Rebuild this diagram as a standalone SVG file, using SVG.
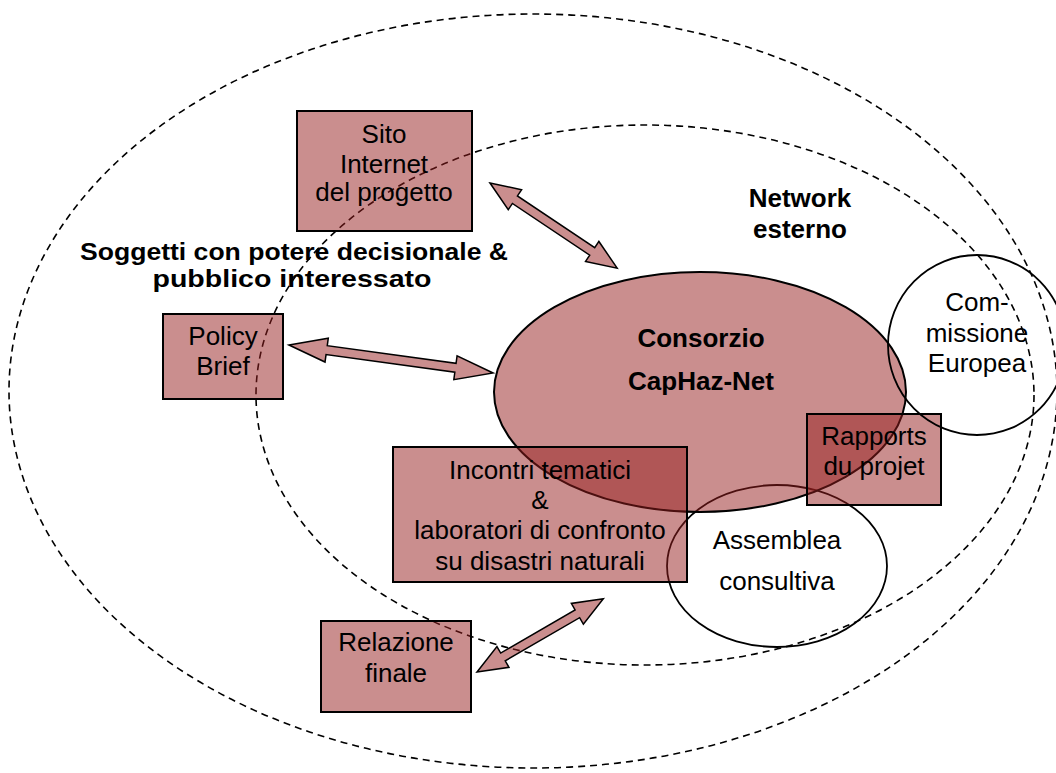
<svg xmlns="http://www.w3.org/2000/svg" width="1056" height="773" viewBox="0 0 1056 773">
<style>
.dash{fill:none;stroke:#000;stroke-width:1.6;stroke-dasharray:7 5}
.fill{fill:#961e1e;fill-opacity:0.5;stroke:#000;stroke-width:2}
.open{fill:none;stroke:#000;stroke-width:1.8}
.arr{fill:#961e1e;fill-opacity:0.5;stroke:#000;stroke-width:1.5;stroke-linejoin:miter}
text{font-family:"Liberation Sans",Arial,sans-serif;font-size:26px;fill:#000;text-anchor:middle}
.b{font-weight:bold}
.s{font-size:24px}
</style>
<rect width="1056" height="773" fill="#fff"/>
<g id="outer-network">
<ellipse class="dash" cx="533" cy="391" rx="524" ry="377"/>
<text class="b s" x="294" y="260" textLength="428" lengthAdjust="spacingAndGlyphs">Soggetti con potere decisionale &amp;</text>
<text class="b s" x="292" y="287" textLength="279" lengthAdjust="spacingAndGlyphs">pubblico interessato</text>
</g>
<g id="inner-network">
<ellipse class="dash" cx="645" cy="395" rx="389" ry="270"/>
<text class="b" x="800" y="207">Network</text>
<text class="b" x="800" y="238">esterno</text>
</g>
<g id="assemblea">
<ellipse class="open" cx="777" cy="566" rx="110" ry="81"/>
<text x="777" y="549">Assemblea</text>
<text x="777" y="590">consultiva</text>
</g>
<g id="consorzio">
<ellipse class="fill" cx="700" cy="392" rx="206" ry="120"/>
<text class="b" x="701" y="347">Consorzio</text>
<text class="b" x="701" y="390">CapHaz-Net</text>
</g>
<g id="sito">
<rect class="fill" x="297" y="111" width="175" height="120"/>
<text x="384" y="143">Sito</text>
<text x="384" y="173">Internet</text>
<text x="384" y="201">del progetto</text>
</g>
<g id="policy">
<rect class="fill" x="163" y="314" width="120" height="85"/>
<text x="223" y="345">Policy</text>
<text x="223" y="375">Brief</text>
</g>
<g id="incontri">
<rect class="fill" x="393" y="447" width="294" height="135"/>
<text x="540" y="479">Incontri tematici</text>
<text x="540" y="509">&amp;</text>
<text x="540" y="539">laboratori di confronto</text>
<text x="540" y="570">su disastri naturali</text>
</g>
<g id="rapports">
<rect class="fill" x="807" y="414" width="134" height="91"/>
<text x="874" y="445">Rapports</text>
<text x="874" y="475">du projet</text>
</g>
<g id="relazione">
<rect class="fill" x="321" y="621" width="150" height="91"/>
<text x="396" y="651">Relazione</text>
<text x="396" y="682">finale</text>
</g>
<g id="commissione">
<ellipse class="open" cx="977" cy="345" rx="89" ry="90"/>
<text x="977" y="311">Com-</text>
<text x="977" y="342">missione</text>
<text x="977" y="372">Europea</text>
</g>
<g id="connectors">
<polygon class="arr" transform="translate(490,183) rotate(33.8)" points="0,0 30,-12 30,-4.5 123,-4.5 123,-12 153,0 123,12 123,4.5 30,4.5 30,12"/>
<polygon class="arr" transform="translate(289,345) rotate(7.8)" points="0,0 38,-12 38,-4.5 168,-4.5 168,-12 206,0 168,12 168,4.5 38,4.5 38,12"/>
<polygon class="arr" transform="translate(477,672) rotate(-30.1)" points="0,0 30,-12 30,-4.5 116,-4.5 116,-12 146,0 116,12 116,4.5 30,4.5 30,12"/>
</g>
</svg>
